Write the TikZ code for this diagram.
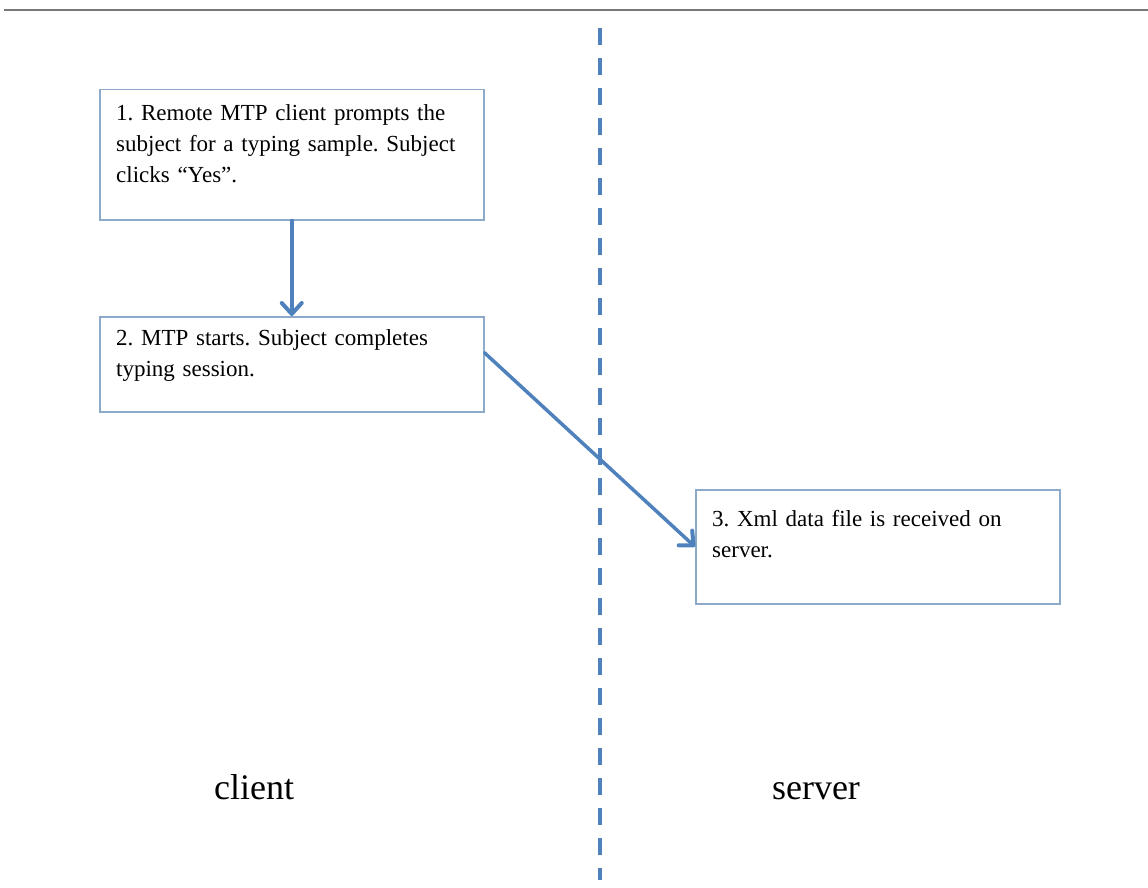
\documentclass[tikz,border=0pt]{standalone}
\usepackage{fontspec}
\usepackage{xcolor}
\usepackage{tikz}
\usetikzlibrary{arrows.meta}
\setmainfont{Liberation Serif}
\frenchspacing
\definecolor{boxline}{RGB}{141,170,205}
\definecolor{flowblue}{RGB}{79,129,189}
\definecolor{ruleline}{RGB}{120,120,120}

\begin{document}
\begin{tikzpicture}[x=1pt,y=-1pt]
\tikzstyle{every node}+=[inner sep=0pt]
\tikzstyle{stepbox}=[draw=boxline,line width=1.5pt,rectangle,anchor=north west]
\tikzstyle{steptext}=[anchor=base west,text width=370pt,align=left,font=\fontsize{23}{31}\selectfont]
\tikzstyle{flow}=[draw=flowblue,line width=3.5pt,line cap=round,-{Straight Barb[length=11pt,width=20pt,line width=4pt,round]}]
\tikzstyle{side}=[font=\fontsize{36}{40}\selectfont,anchor=base]
\useasboundingbox (0,0) rectangle (1148,888);
\coordinate (ruleL) at (4,10);
\coordinate (ruleR) at (1148,10);
\draw [ruleline,line width=2pt] (ruleL) -- (ruleR);
\coordinate (splitTop) at (599.5,28);
\coordinate (splitBot) at (599.5,880);
\draw [flowblue,line width=4pt,dash pattern=on 17pt off 13pt] (splitTop) -- (splitBot);
\node [stepbox,minimum width=384pt,minimum height=130pt] (box1) at (99,89) {};
\node [steptext] (t1) at (116,120.5) {1. Remote MTP client prompts the\\subject for a typing sample. Subject\\clicks “Yes”.};
\node [stepbox,minimum width=384pt,minimum height=95pt] (box2) at (99,316) {};
\node [steptext] (t2) at (116,345) {2. MTP starts. Subject completes\\typing session.};
\node [stepbox,minimum width=364pt,minimum height=114pt] (box3) at (695,489) {};
\node [steptext] (t3) at (712,526) {3. Xml data file is received on\\server.};
\draw [flow] (box1.south) -- (box2.north);
\draw [flow] ([yshift=11.5pt]box2.east) -- (box3.west);
\node [side] (client) at (254,799) {client};
\node [side] (server) at (816,799) {server};
\end{tikzpicture}
\end{document}
